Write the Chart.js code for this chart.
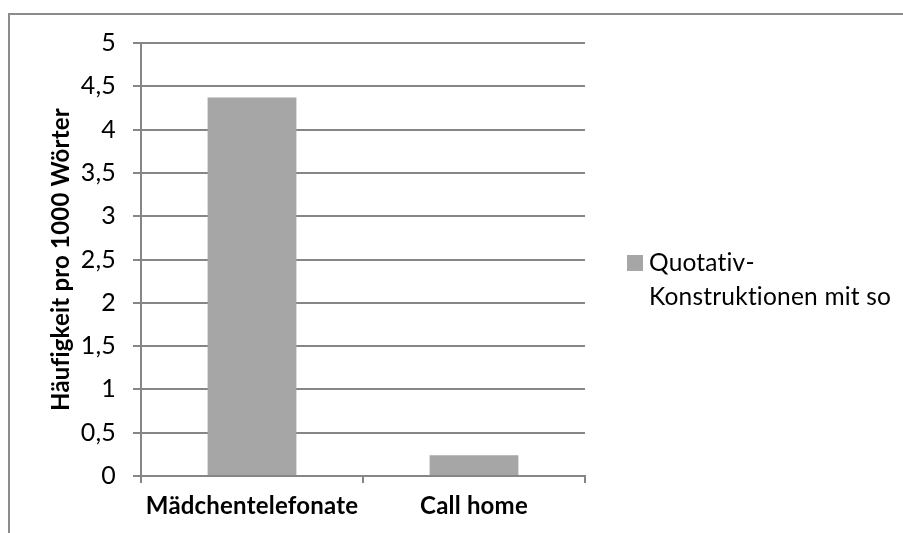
<!DOCTYPE html>
<html>
<head>
<meta charset="utf-8">
<script src="https://cdn.jsdelivr.net/npm/chart.js@4/dist/chart.umd.min.js"></script>
<style>
  html, body { margin: 0; padding: 0; background: #fff; }
  #wrap { width: 903px; height: 533px; position: relative; }
</style>
</head>
<body>
<div id="wrap"><canvas id="c" width="903" height="533"></canvas></div>
<script>
// Corpus categories and frequencies per 1000 words
const categories = ['Mädchentelefonate', 'Call home'];
const seriesLabel = ['Quotativ-', 'Konstruktionen mit so'];
const frequencies = [4.37, 0.24];
const yTicks = [0, 0.5, 1, 1.5, 2, 2.5, 3, 3.5, 4, 4.5, 5];
const yTitle = 'Häufigkeit pro 1000 Wörter';

const FONT = 'Lato, "Open Sans", sans-serif';
const GRID = '#868686';
const BAR = '#a6a6a6';

// Outer frame of the chart object; a tiny letter spacing keeps "ti"/"fi" unligated
const framePlugin = {
  id: 'frame',
  beforeDraw(chart) {
    const ctx = chart.ctx;
    ctx.letterSpacing = '0.2px';
    ctx.save();
    ctx.fillStyle = '#fff';
    ctx.fillRect(0, 0, chart.width, chart.height);
    ctx.strokeStyle = '#8c8c8c';
    ctx.lineWidth = 2;
    ctx.strokeRect(9, 14, chart.width + 20, chart.height + 20);
    ctx.restore();
  }
};

// Legend drawn to the right of the plot, with a wrapped label
const sideLegend = {
  id: 'sideLegend',
  afterDraw(chart) {
    const ctx = chart.ctx;
    const x = 627, y = 263;
    ctx.save();
    ctx.letterSpacing = '0.2px';
    ctx.fillStyle = BAR;
    ctx.fillRect(x, y - 8, 16, 16);
    ctx.fillStyle = '#000';
    ctx.font = '24.5px ' + FONT;
    ctx.textBaseline = 'middle';
    ctx.textAlign = 'left';
    const lines = chart.data.datasets[0].label;
    lines.forEach((t, i) => ctx.fillText(t, x + 22, y + i * 34));
    ctx.restore();
  }
};

new Chart(document.getElementById('c'), {
  type: 'bar',
  data: {
    labels: categories,
    datasets: [{
      label: seriesLabel,
      data: frequencies,
      backgroundColor: BAR,
      borderWidth: 0,
      barPercentage: 0.4,
      categoryPercentage: 1.0
    }]
  },
  options: {
    responsive: false,
    animation: false,
    events: [],
    layout: { padding: { left: 0, right: 318, top: 43, bottom: 0 } },
    plugins: {
      legend: { display: false },
      tooltip: { enabled: false }
    },
    scales: {
      x: {
        offset: true,
        grid: {
          offset: true,
          drawOnChartArea: false,
          drawTicks: true,
          tickLength: 7,
          color: GRID,
          lineWidth: 2
        },
        border: { color: GRID, width: 2 },
        ticks: {
          color: '#000',
          font: { family: FONT, size: 24, weight: 'bold' },
          padding: 9,
          maxRotation: 0
        },
        afterFit(s) { s.height = 57; }
      },
      y: {
        min: 0,
        max: 5,
        afterBuildTicks(s) { s.ticks = yTicks.map(v => ({ value: v })); },
        grid: {
          color: GRID,
          lineWidth: 2,
          drawTicks: true,
          tickLength: 8
        },
        border: { color: GRID, width: 2 },
        ticks: {
          color: '#000',
          font: { family: FONT, size: 25 },
          padding: 17,
          callback: v => String(v).replace('.', ',')
        },
        title: {
          display: true,
          text: yTitle,
          color: '#000',
          font: { family: FONT, size: 24, weight: 'bold' },
          padding: { top: 47, bottom: 0 }
        },
        afterFit(s) { s.width = 141; }
      }
    }
  },
  plugins: [framePlugin, sideLegend]
});
</script>
</body>
</html>
